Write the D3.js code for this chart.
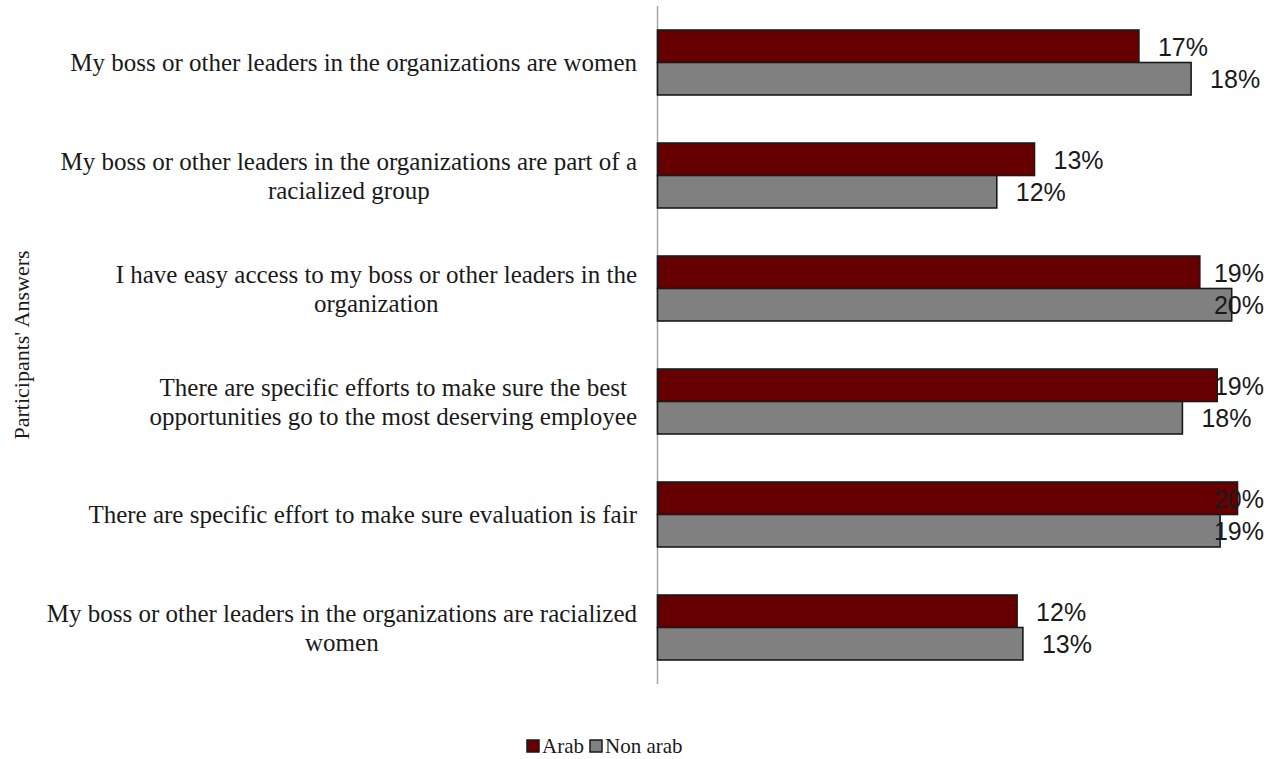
<!DOCTYPE html>
<html>
<head>
<meta charset="utf-8">
<script src="https://cdn.jsdelivr.net/npm/d3@7/dist/d3.min.js"></script>
<style>
  html, body { margin: 0; padding: 0; background: #fff; }
  svg { display: block; }
</style>
</head>
<body>
<svg id="chart" width="1278" height="759"></svg>
<script>
// Survey answers, share of respondents per group
const categories = [
  "My boss or other leaders in the organizations are women",
  "My boss or other leaders in the organizations are part of a\nracialized group",
  "I have easy access to my boss or other leaders in the\norganization",
  "There are specific efforts to make sure the best\nopportunities go to the most deserving employee",
  "There are specific effort to make sure evaluation is fair",
  "My boss or other leaders in the organizations are racialized\nwomen"
];
const seriesNames = ["Arab", "Non arab"];
const arabValues    = [0.166, 0.130, 0.187, 0.193, 0.200, 0.124];
const nonArabValues = [0.184, 0.117, 0.198, 0.181, 0.194, 0.126];
const seriesColors = ["#660000", "#808080"];
const axisTitle = "Participants' Answers";

const svg = d3.select("#chart");
const serif = "'Liberation Serif', 'Times New Roman', serif";
const sans = "'Liberation Sans', Arial, sans-serif";

const plot = { left: 657.5, right: 1264, top: 6, bottom: 684 };

const x = d3.scaleLinear().domain([0, 0.21]).range([plot.left, plot.left + 0.21 * 2900]);
const y = d3.scaleBand().domain(categories).range([plot.top, plot.bottom])
  .paddingInner(0.425).paddingOuter(0.2125);
const ySub = d3.scaleBand().domain(seriesNames).range([0, y.bandwidth()]);
const color = d3.scaleOrdinal().domain(seriesNames).range(seriesColors);
const fmt = d3.format(".0%");

const rows = categories.map((c, i) => ({
  category: c,
  values: [
    { series: seriesNames[0], value: arabValues[i] },
    { series: seriesNames[1], value: nonArabValues[i] }
  ]
}));

// Vertical category axis line
svg.append("line")
  .attr("x1", plot.left).attr("x2", plot.left)
  .attr("y1", plot.top).attr("y2", plot.bottom)
  .attr("stroke", "#a6a6a6").attr("stroke-width", 1.5);

// Bars
const groups = svg.append("g").selectAll("g").data(rows).join("g")
  .attr("transform", d => `translate(0,${y(d.category)})`);

groups.selectAll("rect").data(d => d.values).join("rect")
  .attr("x", x(0))
  .attr("y", d => ySub(d.series))
  .attr("width", d => x(d.value) - x(0))
  .attr("height", ySub.bandwidth())
  .attr("fill", d => color(d.series))
  .attr("stroke", "#1a1a1a")
  .attr("stroke-width", 1.6);

// Value labels, kept inside the plot area on the right
groups.selectAll("text").data(d => d.values).join("text")
  .text(d => fmt(d.value))
  .attr("font-family", sans)
  .attr("font-size", 25)
  .attr("fill", "#1a1a1a")
  .attr("y", d => ySub(d.series) + ySub.bandwidth() / 2 + 1)
  .attr("dy", "0.35em")
  .each(function(d) {
    const w = this.getComputedTextLength();
    const px = Math.min(x(d.value) + 19, plot.right - w);
    d3.select(this).attr("x", px);
  });

// Category labels: block right-aligned, lines centred within the block
const labelRight = 637;
const lineGap = 29;
categories.forEach(c => {
  const lines = c.split("\n");
  const t = svg.append("text")
    .attr("font-family", serif)
    .attr("font-size", 25)
    .attr("fill", "#1a1a1a")
    .attr("text-anchor", "middle");
  const cy = y(c) + y.bandwidth() / 2;
  const spans = lines.map((ln, i) => t.append("tspan")
    .text(ln)
    .attr("y", cy + (i - (lines.length - 1) / 2) * lineGap)
    .attr("dy", "0.35em"));
  const maxW = d3.max(spans, s => s.node().getComputedTextLength());
  spans.forEach(s => s.attr("x", labelRight - maxW / 2));
});

// Axis title
svg.append("text")
  .attr("transform", `translate(21,${(plot.top + plot.bottom) / 2}) rotate(-90)`)
  .attr("text-anchor", "middle")
  .attr("dy", "0.35em")
  .attr("font-family", serif)
  .attr("font-size", 22)
  .attr("fill", "#1a1a1a")
  .text(axisTitle);

// Legend
const legend = svg.append("g").attr("transform", "translate(527,740)");
let lx = 0;
seriesNames.forEach(name => {
  const item = legend.append("g").attr("transform", `translate(${lx},0)`);
  item.append("rect")
    .attr("x", 0).attr("y", 0).attr("width", 12).attr("height", 12)
    .attr("fill", color(name)).attr("stroke", "#1a1a1a").attr("stroke-width", 1.5);
  const t = item.append("text")
    .attr("x", 15).attr("y", 6).attr("dy", "0.35em")
    .attr("font-family", serif).attr("font-size", 21).attr("fill", "#1a1a1a")
    .text(name);
  lx += 15 + t.node().getComputedTextLength() + 6;
});
</script>
</body>
</html>
